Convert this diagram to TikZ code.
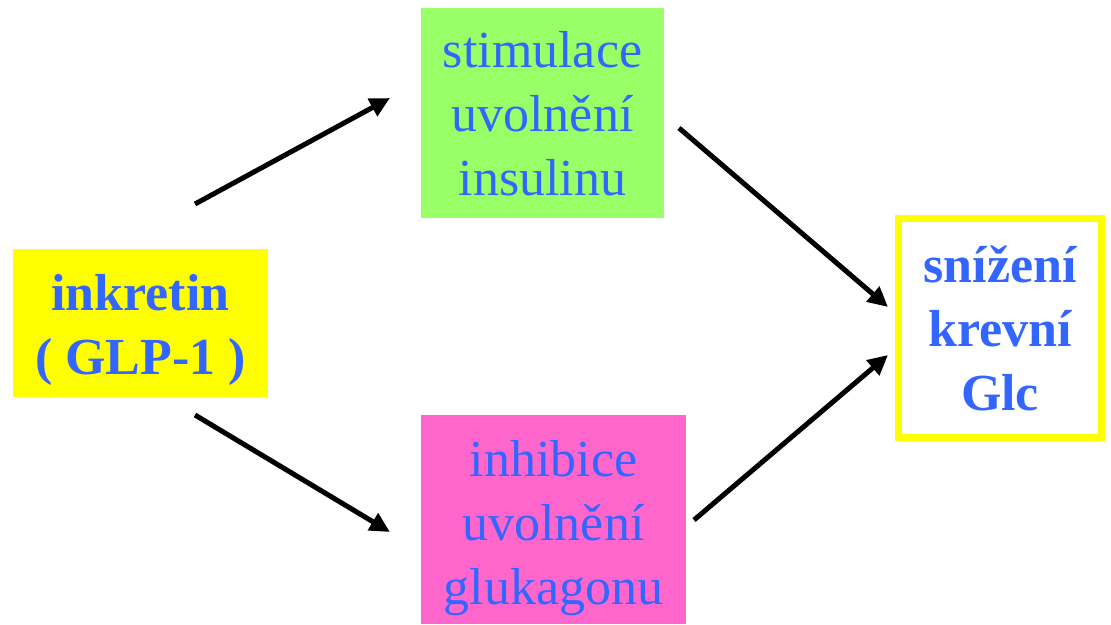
\documentclass[tikz,border=0pt]{standalone}
\usepackage{fontspec}
\setmainfont{Liberation Serif}
\usetikzlibrary{arrows.meta}
\definecolor{txtblue}{HTML}{3366FF}
\definecolor{ylw}{HTML}{FFFF00}
\definecolor{grn}{HTML}{99FF66}
\definecolor{pnk}{HTML}{FF66CC}
\begin{document}
\begin{tikzpicture}[x=1pt,y=-1pt,
  box/.style={inner sep=0pt},
  txt/.style={inner sep=0pt, align=center, text=txtblue, font=\fontsize{52}{64}\selectfont},
  boldtxt/.style={txt, font=\fontsize{52}{64}\selectfont\bfseries},
  arr/.style={line width=5pt, -{Triangle[length=20pt,width=19pt]}}]
\useasboundingbox (0,0) rectangle (1111,624);
\node[box, fill=ylw, minimum width=255pt, minimum height=148pt] (ink) at (140.5,323) {};
\node[boldtxt] (inkt) at ([yshift=-7pt]ink.center) {inkretin\\( GLP-1 )};
\node[box, fill=grn, minimum width=243pt, minimum height=210pt] (ins) at (542.5,113) {};
\node[txt] (inst) at ([yshift=-1pt]ins.center) {stimulace\\uvolnění\\insulinu};
\node[box, fill=pnk, minimum width=265pt, minimum height=209pt] (glu) at (553.5,519.5) {};
\node[txt] (glut) at ([yshift=-9pt]glu.center) {inhibice\\uvolnění\\glukagonu};
\node[box, draw=ylw, line width=7pt, fill=white, minimum width=203pt, minimum height=219pt] (glc) at (1000,328) {};
\node[boldtxt] (glct) at (glc.center) {snížení\\krevní\\Glc};
\coordinate (a1s) at (195,204); \coordinate (a1e) at (390,98);
\coordinate (a2s) at (195,415); \coordinate (a2e) at (390,532);
\coordinate (a3s) at (679,128); \coordinate (a3e) at (888,307);
\coordinate (a4s) at (694,520); \coordinate (a4e) at (888,355);
\draw[arr] (a1s) -- (a1e);
\draw[arr] (a2s) -- (a2e);
\draw[arr] (a3s) -- (a3e);
\draw[arr] (a4s) -- (a4e);
\end{tikzpicture}
\end{document}
